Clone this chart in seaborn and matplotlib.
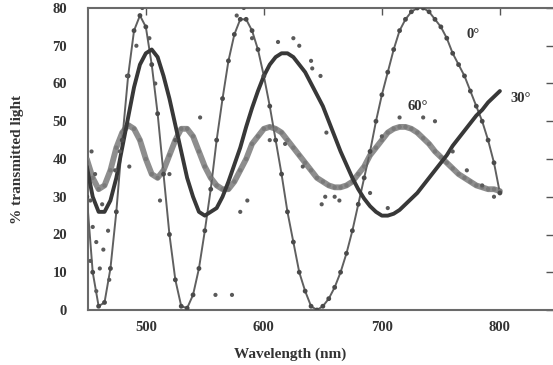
import numpy as np
import pandas as pd
import matplotlib
matplotlib.use("Agg")
import matplotlib.pyplot as plt
import seaborn as sns

# ---- data ----
wavelength = list(range(450, 801, 5))

t0 = [30, 10, 1, 2, 11, 26, 45, 62, 74, 78,
      75, 65, 52, 36, 20, 8, 1, 0.5,
      4, 11, 21, 32, 45, 56, 66, 73, 77, 77,
      74, 69, 62, 54, 45, 36, 26, 18, 10, 5, 1, 0,
      1, 3, 6, 10, 15, 21, 28, 35, 42, 50, 57, 63, 69, 74, 77, 79, 80, 80,
      79, 77, 75, 72, 68, 65, 62, 58, 54, 50, 45, 39, 31]

t30 = [38, 30, 26, 26, 29, 35, 43, 51, 59, 65, 68, 69,
       67, 62, 56, 49, 42, 35, 30, 26, 25,
       26, 27, 30, 34, 38.5, 43, 48.5, 53.5, 58, 62, 65, 67, 68,
       68, 67, 65, 63, 60, 57, 54, 50, 46, 42, 38.5, 35, 32, 29.5, 27.5, 26, 25, 25,
       25.5, 26.5, 28, 29.5, 31, 33, 35, 37, 39, 41, 43.5, 45.5, 47.5, 49.5, 51.5, 53, 55, 56.5, 58]

t60 = [40, 35, 32, 33, 37, 43, 47, 49, 48, 45, 40, 36, 35, 37, 41, 45, 48, 48,
       46, 42, 38, 35, 33, 32, 32, 34, 37, 40, 44, 46, 48, 48.5, 48, 47, 45, 43,
       41, 39, 37, 35, 34, 33, 32.5, 32.5, 33, 34, 36, 38, 41, 43, 45, 47, 48,
       48.5, 48.5, 48, 47, 45.5, 44, 42, 40.5, 39, 37.5, 36, 35, 34, 33, 32.5,
       32, 32, 31.5]

stray_wl = [454, 457, 453, 455, 458, 453, 461, 464, 468, 458, 469, 463,
            478, 486, 474, 520, 512, 525, 580, 586, 559, 573,
            652, 664, 649, 546, 641, 653, 633,
            497, 503, 492, 508, 484, 577, 583, 590, 612, 625, 630, 640, 648,
            605, 618, 660, 690, 705, 735, 745, 760, 772, 785, 795, 700, 715]
stray_val = [42, 36, 29, 22, 18, 13, 11, 16, 21, 5, 8, 28,
             42, 38, 37, 36, 29, 45, 26, 29, 4, 4,
             30, 29, 28, 51, 64, 47, 38,
             80, 72, 70, 60, 62, 78, 80, 72, 71, 72, 70, 66, 62,
             45, 44, 30, 31, 27, 51, 50, 42, 37, 33, 30, 46, 51]

angle_labels = ["0°", "30°", "60°"]
label_pos_wl = [777, 818, 730]
label_pos_val = [73, 56, 54]

x_ticks = [500, 600, 700, 800]
y_ticks = [0, 10, 20, 30, 40, 50, 60, 70, 80]

# ---- figure ----
sns.set_theme(style="white")
plt.rcParams["font.family"] = ["Liberation Serif", "DejaVu Serif"]
plt.rcParams["font.weight"] = "bold"

fig = plt.figure(figsize=(5.53, 3.65), dpi=100)
ax = fig.add_axes([88 / 553, 1 - 310 / 365, 1 - 88 / 553, (310 - 8) / 365])

df = pd.DataFrame({"wl": wavelength, "0°": t0, "30°": t30, "60°": t60})
stray = pd.DataFrame({"wl": stray_wl, "val": stray_val})

sns.lineplot(data=df, x="wl", y="60°", ax=ax, color="#8e8e8e", lw=4.2, zorder=2)
sns.lineplot(data=df, x="wl", y="0°", ax=ax, color="#606060", lw=1.4, zorder=3)
sns.scatterplot(data=df, x="wl", y="60°", ax=ax, color="#7a7a7a", s=10,
                edgecolor="none", zorder=3)
sns.lineplot(data=df, x="wl", y="30°", ax=ax, color="#383838", lw=2.8, zorder=4)
sns.scatterplot(data=df, x="wl", y="0°", ax=ax, color="#4a4a4a", s=12,
                edgecolor="none", zorder=5)
sns.scatterplot(data=stray, x="wl", y="val", ax=ax, color="#5a5a5a", s=9,
                edgecolor="none", zorder=5)

for lab, lx, ly in zip(angle_labels, label_pos_wl, label_pos_val):
    ax.text(lx, ly, lab, fontsize=10.5, fontweight="bold", color="#333333",
            ha="center", va="center", zorder=6)

ax.set_xlim(451, 845)
ax.set_ylim(0, 80)
ax.set_xticks(x_ticks)
ax.set_yticks(y_ticks)
ax.set_xlabel("Wavelength (nm)", fontsize=11, fontweight="bold", color="#333333")
ax.set_ylabel("% transmitted light", fontsize=11, fontweight="bold", color="#333333")
ax.xaxis.set_label_coords(0.435, -0.125)
ax.yaxis.set_label_coords(-0.137, 0.5)

ax.tick_params(axis="both", direction="in", length=5, width=1.0, color="#555555",
               labelsize=10.5, labelcolor="#333333", top=True, right=True)
ax.tick_params(axis="y", pad=15)
ax.tick_params(axis="x", pad=8)
for lab in ax.get_xticklabels() + ax.get_yticklabels():
    lab.set_fontweight("bold")

for side in ["left", "bottom", "top"]:
    ax.spines[side].set_color("#6a6a6a")
    ax.spines[side].set_linewidth(1.5)
ax.spines["right"].set_visible(False)

fig.savefig("out.png", dpi=100)
